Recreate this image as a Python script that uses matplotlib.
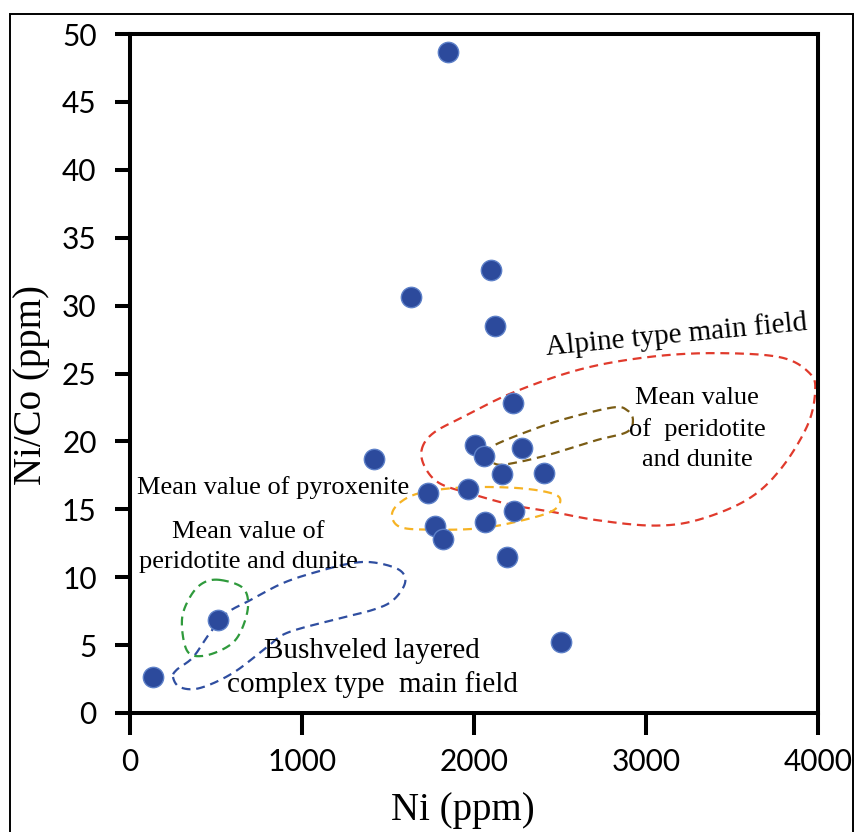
import numpy as np
import matplotlib
matplotlib.use('Agg')
import matplotlib.pyplot as plt
from matplotlib.patches import Rectangle

# ---- data ----
ni = [1849, 2099, 1634, 2122, 2229, 1419, 2006, 2058, 2281, 2165, 2409,
      1734, 1965, 2234, 2062, 1773, 1822, 2190, 2506, 510, 134]
ni_co = [48.7, 32.6, 30.6, 28.5, 22.85, 18.7, 19.7, 18.9, 19.5, 17.6, 17.65,
         16.2, 16.5, 14.9, 14.1, 13.8, 12.8, 11.5, 5.2, 6.85, 2.65]

x_ticks = [0, 1000, 2000, 3000, 4000]
y_ticks = [0, 5, 10, 15, 20, 25, 30, 35, 40, 45, 50]

# field outlines (Ni ppm, Ni/Co)
alpine_x = [1696, 1762, 1936, 2227, 2616, 3006, 3390, 3779, 3953, 3983, 3936,
            3779, 3587, 3297, 3041, 2715, 2459, 2227, 1994, 1802, 1715]
alpine_y = [19.4, 20.6, 21.8, 23.6, 25.3, 26.2, 26.5, 26.2, 25.0, 23.6, 21.1,
            17.9, 15.7, 14.2, 13.8, 14.2, 14.8, 15.3, 16.1, 16.9, 18.1]

perid_x = [2081, 2110, 2326, 2541, 2808, 2890, 2924, 2890, 2715, 2459, 2267, 2134]
perid_y = [19.0, 19.66, 20.8, 21.7, 22.5, 22.3, 21.6, 20.7, 20.1, 19.1, 18.5, 18.3]

pyrox_x = [1523, 1570, 1686, 1919, 2209, 2413, 2500, 2459, 2285, 2035, 1744, 1570]
pyrox_y = [14.6, 15.5, 16.2, 16.6, 16.6, 16.3, 15.8, 14.9, 14.2, 13.6, 13.5, 13.7]

bush_x = [250, 291, 407, 599, 797, 913, 1180, 1413, 1529, 1599, 1570, 1436,
          1297, 1087, 890, 698, 564, 465, 366, 273]
bush_y = [2.65, 1.9, 1.84, 2.95, 4.86, 5.9, 6.85, 7.6, 8.3, 9.57, 10.5, 11.05,
          11.05, 10.4, 9.57, 8.3, 7.36, 5.9, 4.1, 3.2]

green_x = [523, 657, 686, 640, 564, 424, 331, 302, 349, 424]
green_y = [9.8, 9.2, 7.8, 5.9, 4.86, 4.2, 4.6, 6.85, 8.54, 9.57]


def closed_spline(xs, ys, n=30):
    P = np.column_stack([xs, ys]).astype(float)
    N = len(P)
    t = np.linspace(0, 1, n, endpoint=False)[:, None]
    segs = []
    for i in range(N):
        p0, p1, p2, p3 = P[(i - 1) % N], P[i], P[(i + 1) % N], P[(i + 2) % N]
        seg = 0.5 * ((2 * p1) + (-p0 + p2) * t + (2 * p0 - 5 * p1 + 4 * p2 - p3) * t ** 2
                     + (-p0 + 3 * p1 - 3 * p2 + p3) * t ** 3)
        segs.append(seg)
    out = np.vstack(segs + [P[:1]])
    return out[:, 0], out[:, 1]


W, H = 855, 832
fig = plt.figure(figsize=(W / 100, H / 100), dpi=100)
ax = fig.add_axes([130 / W, 1 - 713 / H, 688 / W, 679 / H])

dash = (0, (4, 2.6))
for xs, ys, col in [(alpine_x, alpine_y, '#e03a2c'),
                    (perid_x, perid_y, '#7a5c14'),
                    (pyrox_x, pyrox_y, '#f6b324'),
                    (bush_x, bush_y, '#2f4ea0'),
                    (green_x, green_y, '#2f9a3c')]:
    sx, sy = closed_spline(xs, ys)
    ax.plot(sx, sy, linestyle=dash, color=col, lw=1.6, zorder=2)

ax.scatter(ni, ni_co, s=215, color='#2c4a9c', edgecolors='#5d80c8',
           linewidths=1.0, zorder=3)

ax.set_xlim(0, 4000)
ax.set_ylim(0, 50)
ax.set_xticks(x_ticks)
ax.set_yticks(y_ticks)

tick_font = 'Lato'
for lab in ax.get_xticklabels() + ax.get_yticklabels():
    lab.set_fontfamily(tick_font)
    lab.set_fontsize(21.5)

for s in ax.spines.values():
    s.set_linewidth(2.9)
ax.tick_params(axis='x', length=16, width=2.9, pad=9)
ax.tick_params(axis='y', length=11, width=2.9, pad=13)

serif = 'Liberation Serif'
ax.set_xlabel('Ni (ppm)', fontfamily=serif, fontsize=28)
ax.set_ylabel('Ni/Co (ppm)', fontfamily=serif, fontsize=28)
ax.xaxis.set_label_coords(0.484, -0.116)
ax.yaxis.set_label_coords(-0.116, 0.483)

tk = dict(fontfamily=serif, color='black', zorder=4)
ax.text(3174, 27.8, 'Alpine type main field', fontsize=21, rotation=5.5,
        ha='center', va='center', **tk)
ax.text(3297, 20.9, 'Mean value\nof  peridotite\nand dunite', fontsize=19,
        ha='center', va='center', linespacing=1.5, **tk)
ax.text(41, 16.6, 'Mean value of pyroxenite', fontsize=19,
        ha='left', va='center', **tk)
ax.text(686, 12.2, 'Mean value of\nperidotite and dunite', fontsize=19,
        ha='center', va='center', linespacing=1.45, **tk)
ax.text(1407, 3.3, 'Bushveled layered\ncomplex type  main field', fontsize=21,
        ha='center', va='center', linespacing=1.35, **tk)

fig.add_artist(Rectangle((10 / W, -0.05), (853 - 10) / W, 1 - 14 / H + 0.05,
                         transform=fig.transFigure, fill=False, lw=1.4,
                         edgecolor='black', clip_on=False))

fig.savefig('out.png', dpi=100)
